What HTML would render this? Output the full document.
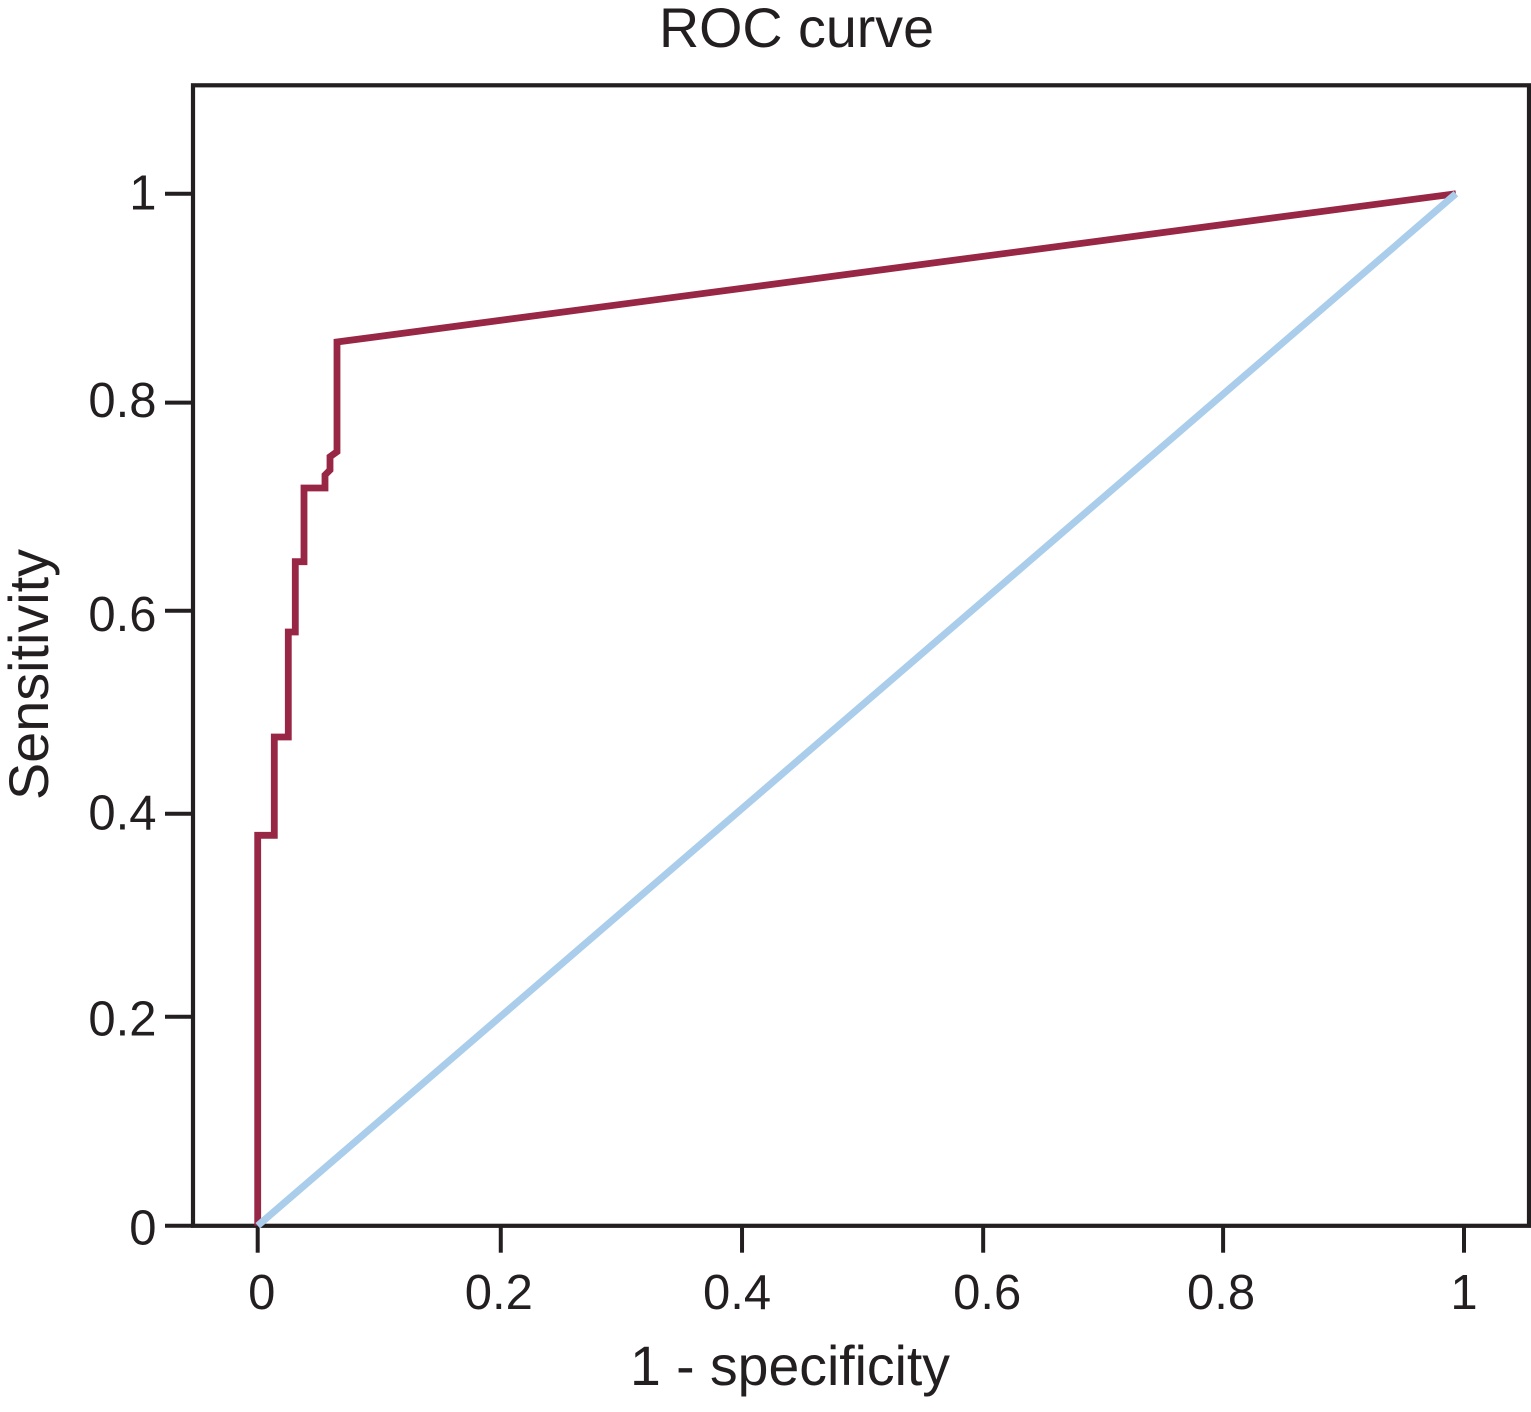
<!DOCTYPE html>
<html lang="en">
<head>
<meta charset="utf-8">
<title>ROC curve</title>
<style>
html,body{margin:0;padding:0;background:#fff;}
body{width:1531px;height:1412px;overflow:hidden;}
svg{display:block;}
text{font-family:"Liberation Sans",Arial,sans-serif;fill:#231f20;}
</style>
</head>
<body>
<svg id="chart" xmlns="http://www.w3.org/2000/svg" width="1531" height="1412" viewBox="0 0 1531 1412">
  <rect x="0" y="0" width="1531" height="1412" fill="#ffffff"/>
  <text x="659" y="47" font-size="55.5" textLength="275" lengthAdjust="spacingAndGlyphs">ROC curve</text>
  <text x="630" y="1385" font-size="55.5" textLength="320" lengthAdjust="spacingAndGlyphs">1 - specificity</text>
  <text transform="translate(48 800) rotate(-90)" font-size="55.5" textLength="251" lengthAdjust="spacingAndGlyphs">Sensitivity</text>
  <rect x="193" y="85.3" width="1336" height="1140.5" fill="none" stroke="#231f20" stroke-width="4.2"/>
  <g id="ticks"></g>
  <g id="series"></g>
</svg>
<script>
// Data
const rocFpr = [0, 0, 0.0138, 0.0138, 0.0254, 0.0254, 0.0312, 0.0312, 0.0384, 0.0384, 0.0558, 0.0558, 0.0599, 0.0599, 0.0657, 0.0657, 0.9933];
const rocTpr = [0, 0.3783, 0.3783, 0.4735, 0.4735, 0.5753, 0.5753, 0.6434, 0.6434, 0.7148, 0.7148, 0.7274, 0.7323, 0.7452, 0.75, 0.8563, 1];
const chanceFpr = [0, 0.9933];
const chanceTpr = [0, 1];
const xTickValues = [0, 0.2015, 0.4015, 0.6014, 0.8003, 1];
const xTickLabels = ['0', '0.2', '0.4', '0.6', '0.8', '1'];
const yTickValues = [0, 0.2025, 0.3992, 0.5959, 0.7975, 1];
const yTickLabels = ['0', '0.2', '0.4', '0.6', '0.8', '1'];

// Layout
const plotLeft = 257.7, plotWidth = 1206.3, plotBottom = 1225.7, plotHeight = 1032;
const xLabelNudge = [4, -2, -5, 4, -2, 0];
const yLabelNudge = [19, 19, 16, 20.5, 14.5, 16];
const NS = 'http://www.w3.org/2000/svg';
const ink = '#231f20';

function xScale(v) { return plotLeft + v * plotWidth; }
function yScale(v) { return plotBottom - v * plotHeight; }

function make(tag, attrs, parent) {
  const el = document.createElementNS(NS, tag);
  Object.keys(attrs).forEach(function (k) { el.setAttribute(k, attrs[k]); });
  parent.appendChild(el);
  return el;
}

const tickLayer = document.getElementById('ticks');
const seriesLayer = document.getElementById('series');

xTickValues.forEach(function (v, i) {
  const x = xScale(v);
  const tick = make('line', { x1: x, x2: x, y1: 1226, y2: 1252.7, stroke: ink, 'stroke-width': 4 }, tickLayer);
  
  
  const label = make('text', { x: x + xLabelNudge[i], y: 1309, 'font-size': 49, 'text-anchor': 'middle' }, tickLayer);
  label.textContent = xTickLabels[i];
  
  
});

yTickValues.forEach(function (v, i) {
  const y = yScale(v);
  const tick = make('line', { x1: 165, x2: 193, y1: y, y2: y, stroke: ink, 'stroke-width': 4 }, tickLayer);
  
  
  const label = make('text', { x: 156.5, y: y + yLabelNudge[i], 'font-size': 49, 'text-anchor': 'end' }, tickLayer);
  label.textContent = yTickLabels[i];
  
  
});

function pointsOf(xs, ys) {
  return xs.map(function (v, i) { return xScale(v).toFixed(1) + ',' + yScale(ys[i]).toFixed(1); }).join(' ');
}

const rocLine = make('polyline', { points: pointsOf(rocFpr, rocTpr), fill: 'none', stroke: '#982645', 'stroke-width': 6.8, 'stroke-linejoin': 'miter' }, seriesLayer);



const chanceLine = make('polyline', { points: pointsOf(chanceFpr, chanceTpr), fill: 'none', stroke: '#a9cdea', 'stroke-width': 7 }, seriesLayer);


</script>
</body>
</html>
